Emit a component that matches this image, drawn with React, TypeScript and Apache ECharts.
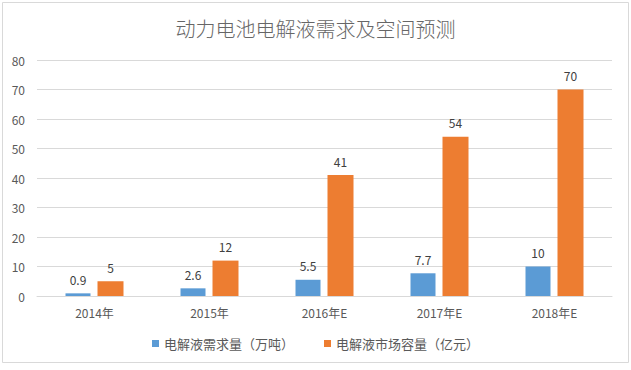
import React, { useEffect, useRef } from "react";
import * as echarts from "echarts";

const title = "动力电池电解液需求及空间预测";
const categories = ["2014年", "2015年", "2016年E", "2017年E", "2018年E"];
const demandName = "电解液需求量（万吨）";
const marketName = "电解液市场容量（亿元）";
const demandValues = [0.9, 2.6, 5.5, 7.7, 10];
const marketValues = [5, 12, 41, 54, 70];

const FONT = "'Noto Sans CJK SC', 'Noto Sans', sans-serif";

export default function App() {
  const ref = useRef<HTMLDivElement>(null);
  useEffect(() => {
    document.body.style.margin = "0";
    const chart = echarts.init(ref.current!, undefined, { renderer: "svg" });
    chart.setOption({
      animation: false,
      backgroundColor: "#ffffff",
      textStyle: { fontFamily: FONT },
      title: {
        text: title,
        left: "center",
        top: 13,
        textStyle: { fontSize: 20, fontWeight: 300, color: "#666666", fontFamily: FONT },
      },
      graphic: [
        {
          type: "rect",
          shape: { x: 2.5, y: 2.5, width: 626, height: 360 },
          style: { fill: "none", stroke: "#d9d9d9", lineWidth: 1 },
          silent: true,
        },
      ],
      legend: {
        bottom: 15,
        left: "center",
        itemWidth: 7,
        itemHeight: 7,
        itemGap: 30,
        icon: "rect",
        textStyle: { fontSize: 13, color: "#595959" },
        data: [demandName, marketName],
      },
      grid: { left: 37, right: 19, top: 60, bottom: 74 },
      xAxis: {
        type: "category",
        data: categories,
        axisLine: { lineStyle: { color: "#d9d9d9" } },
        axisTick: { show: false },
        axisLabel: { color: "#595959", fontSize: 12, margin: 10 },
      },
      yAxis: {
        type: "value",
        min: 0,
        max: 80,
        interval: 10,
        axisLine: { show: false },
        axisTick: { show: false },
        splitLine: { lineStyle: { color: "#d9d9d9" } },
        axisLabel: { color: "#595959", fontSize: 12, margin: 12 },
      },
      series: [
        {
          name: demandName,
          type: "bar",
          data: demandValues,
          barWidth: 25,
          barGap: "28%",
          itemStyle: { color: "#5B9BD5" },
          label: { show: true, position: "top", color: "#404040", fontSize: 12, distance: 8 },
        },
        {
          name: marketName,
          type: "bar",
          data: marketValues,
          barWidth: 26,
          itemStyle: { color: "#ED7D31" },
          label: { show: true, position: "top", color: "#404040", fontSize: 12, distance: 8 },
        },
      ],
    });
    return () => chart.dispose();
  }, []);
  return <div ref={ref} style={{ width: 631, height: 370 }} />;
}
